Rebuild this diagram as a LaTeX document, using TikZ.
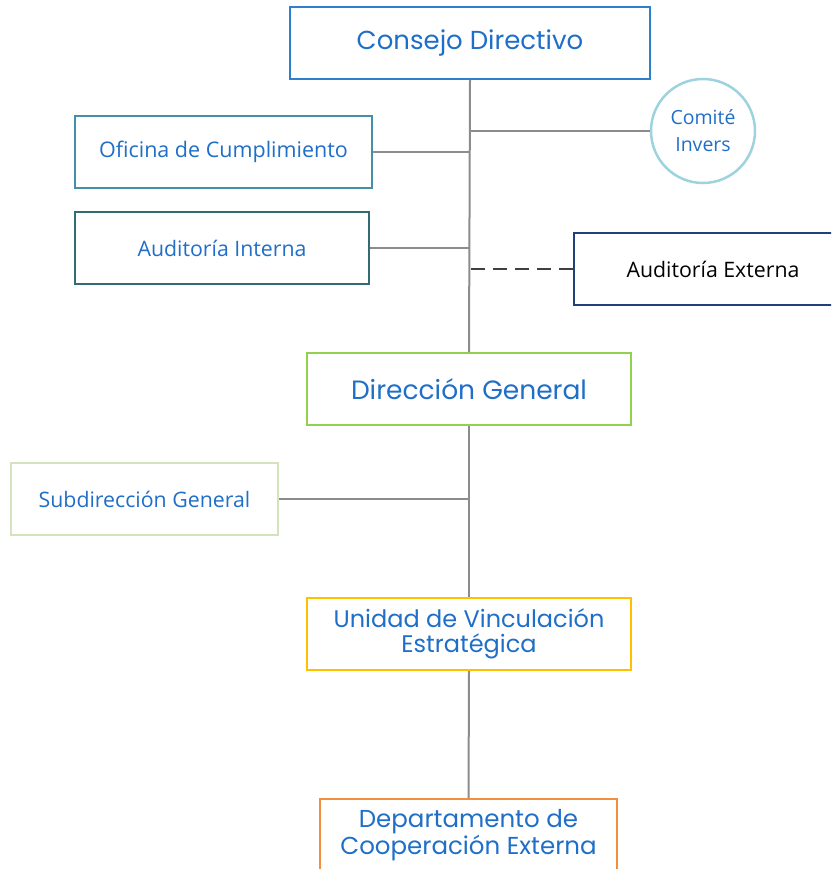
\documentclass[tikz,border=0pt]{standalone}
\usepackage{fontspec}
\setmainfont{Open Sans}
\newfontfamily\gothic{Poppins}
\usetikzlibrary{positioning}
\definecolor{txtblue}{HTML}{1F6FC8}
\definecolor{cdblue}{HTML}{2F7FCF}
\definecolor{octeal}{HTML}{4590A8}
\definecolor{aiteal}{HTML}{336B75}
\definecolor{cicyan}{HTML}{9DD3DE}
\definecolor{aenavy}{HTML}{213F7C}
\definecolor{dggreen}{HTML}{92D050}
\definecolor{sgpale}{HTML}{D5E3BC}
\definecolor{uvgold}{HTML}{FFC000}
\definecolor{dcorange}{HTML}{F0903E}
\definecolor{linegray}{HTML}{8C8C8C}
\definecolor{dashgray}{HTML}{404040}

\begin{document}
\begin{tikzpicture}[x=1pt,y=-1pt,
   unit/.style={draw=#1,line width=2pt,inner sep=0pt,minimum height=72pt,
     align=center,text=txtblue,fill=white},
   gothicfont/.style={font=\gothic\fontsize{#1}{24.5}\selectfont},
   plainfont/.style={font=\fontsize{#1}{27}\selectfont},
   link/.style={draw=linegray,line width=2pt},
   dashlink/.style={draw=dashgray,line width=2.5pt,dash pattern=on 14pt off 8pt}]
 \useasboundingbox (0,0) rectangle (831,869);
 \clip (0,0) rectangle (831,869);
 \node[unit=cdblue,minimum width=360pt,gothicfont=26] (cd) at (470,43) {Consejo Directivo};
 \node[unit=octeal,minimum width=297pt,plainfont=21.5] (oc) at (223.5,152) {Oficina de Cumplimiento};
 \node[unit=aiteal,minimum width=294pt,plainfont=21.3] (ai) at (222,248) {Auditoría Interna};
 \node[circle,draw=cicyan,line width=2.5pt,minimum size=104pt,inner sep=0pt,
   align=center,text=txtblue,plainfont=19.5] (ci) at (703,131) {Comité\\Invers};
 \node[unit=aenavy,minimum width=278pt,text=black,plainfont=21.3] (ae) at (713,269) {Auditoría Externa};
 \node[unit=dggreen,minimum width=324pt,gothicfont=26.5] (dg) at (469,389) {Dirección General};
 \node[unit=sgpale,minimum width=267pt,plainfont=21.3] (sg) at (144.5,499) {Subdirección General};
 \node[unit=uvgold,minimum width=324pt,gothicfont=24] (uv) at (469,634) {Unidad de Vinculación\\Estratégica};
 \node[unit=dcorange,minimum width=297pt,gothicfont=24.5] (dc) at (468.5,835) {Departamento de\\Cooperación Externa};
 \draw[link] (cd.south) -- (dg.north);
 \draw[link] (oc.east) -- (oc.east -| cd.south);
 \draw[link] (ai.east) -- (ai.east -| cd.south);
 \draw[link] (ci.west) -- (ci.west -| cd.south);
 \draw[dashlink] (ae.west) -- (ae.west -| cd.south);
 \draw[link] (dg.south) -- (uv.north);
 \draw[link] (sg.east) -- (sg.east -| dg.south);
 \draw[link] (uv.south) -- (dc.north);
\end{tikzpicture}
\end{document}
